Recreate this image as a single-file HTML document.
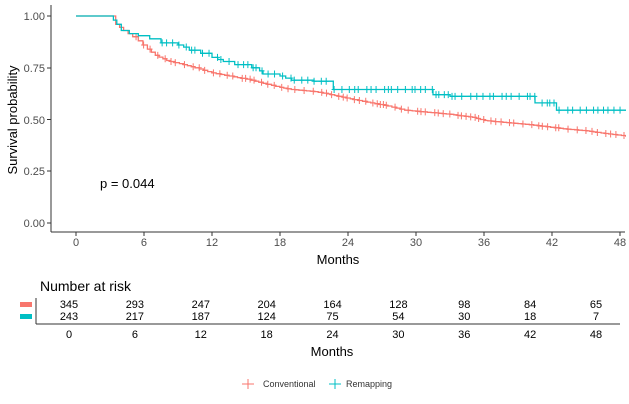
<!DOCTYPE html>
<html><head><meta charset="utf-8"><style>
body{margin:0;background:#fff;}
svg{display:block;font-family:"Liberation Sans",sans-serif;}
</style></head><body>
<svg id="s" width="629" height="404" viewBox="0 0 629 404" xmlns="http://www.w3.org/2000/svg">
<rect width="629" height="404" fill="#fff"/>
<defs><clipPath id="cp"><rect x="51" y="0" width="575" height="232"/></clipPath></defs>
<g fill="#4d4d4d" font-size="11" text-anchor="end">
<text x="45" y="20">1.00</text><text x="45" y="72">0.75</text><text x="45" y="124">0.50</text><text x="45" y="175">0.25</text><text x="45" y="227">0.00</text>
</g>
<g stroke="#333" stroke-width="1">
<line x1="51" y1="5" x2="51" y2="232"/><line x1="51" y1="232" x2="625" y2="232"/>
<line x1="47" y1="16" x2="51" y2="16"/><line x1="47" y1="68" x2="51" y2="68"/><line x1="47" y1="119.5" x2="51" y2="119.5"/><line x1="47" y1="171" x2="51" y2="171"/><line x1="47" y1="223" x2="51" y2="223"/>
</g>
<g id="xt" fill="#4d4d4d" font-size="11" text-anchor="middle"></g>
<text x="338" y="264" font-size="13" text-anchor="middle">Months</text>
<text transform="translate(17,120) rotate(-90)" font-size="13" text-anchor="middle">Survival probability</text>
<text x="100" y="188" font-size="13">p = 0.044</text>
<g id="curves" clip-path="url(#cp)"></g>
<text x="40" y="291" font-size="14">Number at risk</text>
<rect x="20" y="302" width="12" height="5" fill="#f8766d"/>
<rect x="20" y="314" width="12" height="5" fill="#00bfc4"/>
<line x1="36" y1="298" x2="36" y2="324" stroke="#333"/>
<line x1="36" y1="324" x2="620" y2="324" stroke="#333"/>
<g id="rt" font-size="11" text-anchor="middle"></g>
<text x="332" y="356" font-size="13" text-anchor="middle">Months</text>
<g font-size="9" fill="#333">
<line x1="242" y1="384" x2="254" y2="384" stroke="#f8766d"/><line x1="248" y1="379" x2="248" y2="389" stroke="#f8766d"/>
<text x="263" y="387">Conventional</text>
<line x1="329" y1="384" x2="341" y2="384" stroke="#00bfc4"/><line x1="335" y1="379" x2="335" y2="389" stroke="#00bfc4"/>
<text x="346" y="387">Remapping</text>
</g>
</svg>
<script>
const NS="http://www.w3.org/2000/svg";
function X(m){return 76+m*11.333;}function Y(v){return 223-v*207;}
let xt=document.getElementById('xt'),rt=document.getElementById('rt');
const r1=[345,293,247,204,164,128,98,84,65],r2=[243,217,187,124,75,54,30,18,7];
for(let i=0;i<9;i++){let m=i*6;
let t=document.createElementNS(NS,'text');t.setAttribute('x',X(m));t.setAttribute('y',246);t.textContent=m;xt.appendChild(t);
let l=document.createElementNS(NS,'line');l.setAttribute('x1',X(m));l.setAttribute('x2',X(m));l.setAttribute('y1',232);l.setAttribute('y2',236);l.setAttribute('stroke','#333');xt.appendChild(l);
let rx=69+m*10.98;
[[r1[i],308],[r2[i],320],[m,338]].forEach(([s,y])=>{let q=document.createElementNS(NS,'text');q.setAttribute('x',rx);q.setAttribute('y',y);q.textContent=s;rt.appendChild(q);});
}
const redK=[[0,1],[3,1],[3.5,.96],[4.2,.93],[5,.90],[5.5,.88],[6.3,.84],[7,.81],[8,.785],[9.5,.765],[10.5,.75],[12,.725],[13.5,.71],[15,.695],[16.5,.675],[18,.655],[19,.645],[21,.635],[22.5,.62],[24.2,.60],[26,.58],[27.5,.565],[29,.545],[31,.535],[33,.525],[35,.51],[36,.495],[38,.485],[40,.475],[41.5,.465],[43,.455],[45,.445],[47,.43],[48.5,.42],[49.5,.415]];
function interp(K,st){let out=[[0,1]];for(let i=1;i<K.length;i++){let [a,va]=K[i-1],[b,vb]=K[i];let n=Math.max(1,Math.round((b-a)/st));for(let j=1;j<=n;j++)out.push([a+(b-a)*j/n,va+(vb-va)*j/n]);}return out;}
const red=interp(redK,0.35);
const teal=[[0,1],[3,1],[3.3,.98],[3.6,.96],[4,.93],[4.7,.915],[5.5,.905],[6.5,.89],[7.5,.87],[9,.86],[9.5,.85],[10,.835],[11,.82],[12,.80],[12.5,.79],[13,.78],[14,.765],[15.5,.75],[16.2,.735],[16.5,.72],[18,.71],[18.5,.70],[19,.69],[21,.685],[22.7,.645],[31.5,.62],[33,.612],[40.5,.58],[42.4,.545],[49.5,.545]];
function draw(d,c,cens){let p='M'+X(d[0][0])+' '+Y(d[0][1]);
for(let i=1;i<d.length;i++){p+=' H'+X(d[i][0]).toFixed(1)+' V'+Y(d[i][1]).toFixed(1);}
let e=document.createElementNS(NS,'path');e.setAttribute('d',p);e.setAttribute('fill','none');e.setAttribute('stroke',c);e.setAttribute('stroke-width','1.3');document.getElementById('curves').appendChild(e);
cens.forEach(m=>{let v=d[0][1];for(const [a,b] of d){if(a<=m)v=b;}let g=document.createElementNS(NS,'path');let x=X(m),y=Y(v);g.setAttribute('d',`M${x-2.5} ${y}H${x+2.5}M${x} ${y-3.5}V${y+3.5}`);g.setAttribute('stroke',c);g.setAttribute('stroke-width','1');document.getElementById('curves').appendChild(g);});}
let cr=[],ct=[];
for(let m=5.3;m<49.5;m+=0.25+((m*7.3)%1)*0.6)cr.push(m);
for(let m=7.6;m<49.5;m+=0.2+((m*5.7)%1)*0.6)ct.push(m);
draw(red,'#f8766d',cr);draw(teal,'#00bfc4',ct);
</script>
</body></html>
